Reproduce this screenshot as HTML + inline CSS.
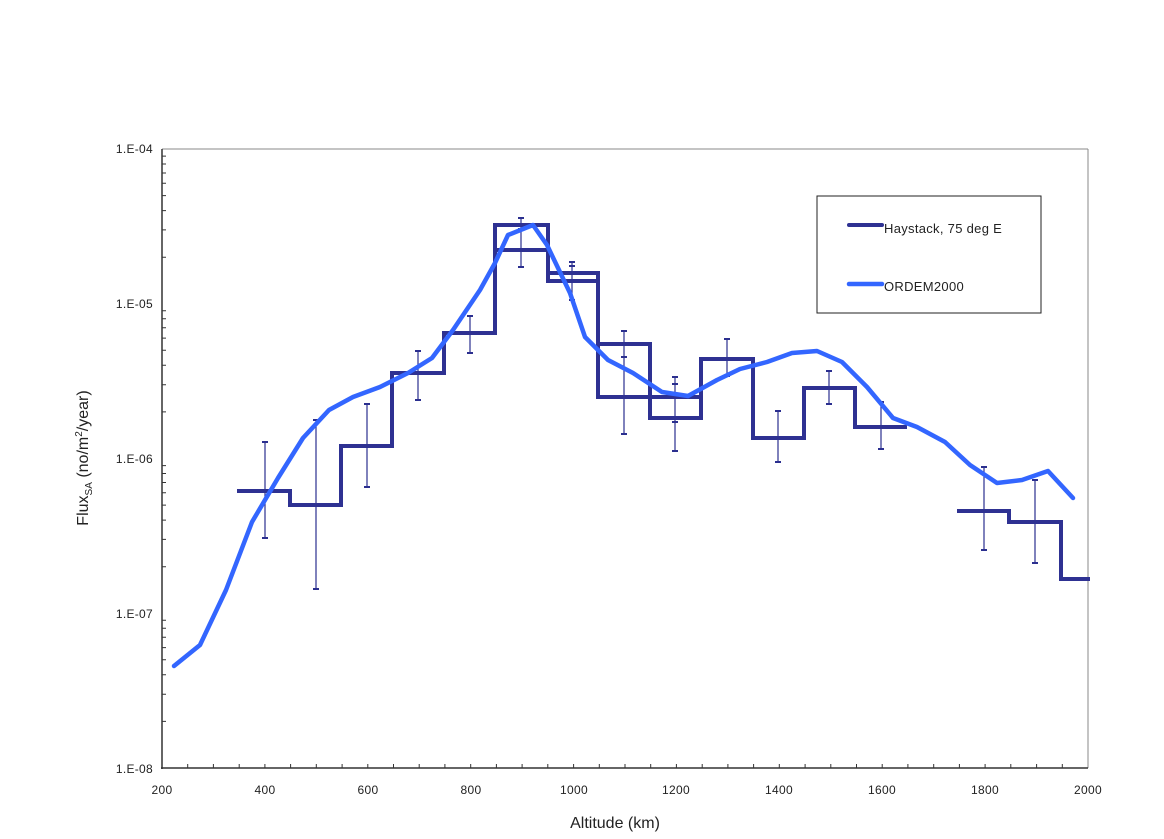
<!DOCTYPE html>
<html><head><meta charset="utf-8"><style>body{margin:0;background:#fff}svg{display:block}</style></head><body>
<svg width="1164" height="839" xmlns="http://www.w3.org/2000/svg" font-family="Liberation Sans, Arial, sans-serif">
<rect width="1164" height="839" fill="#fff"/>
<line x1="162" y1="149" x2="1088" y2="149" stroke="#888" stroke-width="1"/>
<line x1="1088" y1="149" x2="1088" y2="768" stroke="#888" stroke-width="1"/>
<line x1="162" y1="149" x2="162" y2="769" stroke="#333" stroke-width="1.5"/>
<line x1="161" y1="768" x2="1088" y2="768" stroke="#333" stroke-width="1.5"/>
<g id="ticks" stroke="#333" stroke-width="1"></g>
<g font-size="12" fill="#222" text-anchor="end" letter-spacing="0.3">
<text x="153" y="153">1.E-04</text><text x="153" y="308">1.E-05</text><text x="153" y="463">1.E-06</text><text x="153" y="618">1.E-07</text><text x="153" y="773">1.E-08</text>
</g>
<g font-size="12" fill="#222" text-anchor="middle" letter-spacing="0.3">
<text x="162" y="794">200</text><text x="265" y="794">400</text><text x="368" y="794">600</text><text x="471" y="794">800</text><text x="574" y="794">1000</text><text x="676" y="794">1200</text><text x="779" y="794">1400</text><text x="882" y="794">1600</text><text x="985" y="794">1800</text><text x="1088" y="794">2000</text>
</g>
<text x="615" y="828" font-size="16" text-anchor="middle" fill="#222">Altitude (km)</text>
<text transform="translate(88,458) rotate(-90)" font-size="16" text-anchor="middle" fill="#222">Flux<tspan font-size="10" dy="4">SA</tspan><tspan dy="-4"> (no/m</tspan><tspan font-size="10" dy="-6">2</tspan><tspan dy="6">/year)</tspan></text>
<g stroke="#2b2f8f" stroke-width="1.2" fill="none">
<path d="M265 442V538M316 420V589M367 404V487M418 351V400M470 316V353M521 218V267M572 262V300M624 331V434M675 377V451M727 339V376M778 411V462M829 371V404M881 402V449M984 467V550M1035 480V563"/>
</g>
<g stroke="#2b2f8f" stroke-width="2" fill="none">
<path d="M262 442h6M262 538h6M313 420h6M313 589h6M364 404h6M364 487h6M415 351h6M415 400h6M467 316h6M467 353h6M518 218h6M518 267h6M518 229h6M569 262h6M569 300h6M569 266h6M569 281h6M621 331h6M621 434h6M621 357h6M672 377h6M672 451h6M672 384h6M672 422h6M724 339h6M724 376h6M775 411h6M775 462h6M826 371h6M826 404h6M878 402h6M878 449h6M981 467h6M981 550h6M1032 480h6M1032 563h6"/>
</g>
<g stroke="#2e3192" stroke-width="4" fill="none" stroke-linejoin="miter">
<path d="M237 491H290V505H341V446H392V373H444V333H495V225H548V281H598V397H650V418H701V359H753V438H804V388H855V427H907"/>
<path d="M495 250H548V273H598V344H650V397H701"/>
<path d="M957 511H1009V522H1061V579H1090"/>
</g>
<polyline fill="none" stroke="#3366ff" stroke-width="4.5" stroke-linejoin="round" stroke-linecap="round" points="174,666 200,645 226,590 252,522 278,478 303,438 329,410 353,397 380,387 408,373 432,358 453,330 480,290 495,263 508,235 533,225 547,245 570,293 585,337 608,360 633,373 662,392 688,396 717,380 740,369 767,362 792,353 817,351 842,362 867,387 893,418 917,427 945,442 970,465 997,483 1022,480 1048,471 1073,498"/>
<rect x="817" y="196" width="224" height="117" fill="#fff" stroke="#222" stroke-width="1"/>
<line x1="849" y1="225" x2="882" y2="225" stroke="#2e3192" stroke-width="4" stroke-linecap="round"/>
<line x1="849" y1="284" x2="882" y2="284" stroke="#3366ff" stroke-width="4.5" stroke-linecap="round"/>
<text x="884" y="233" font-size="13" fill="#222" letter-spacing="0.3">Haystack, 75 deg E</text>
<text x="884" y="291" font-size="13" fill="#222" letter-spacing="0.3">ORDEM2000</text>
<script>
var g=document.getElementById('ticks'),s='';
for(var d=0;d<4;d++){var y0=768-d*154.75;for(var k=2;k<10;k++){var y=y0-Math.log10(k)*154.75;s+='M162 '+y.toFixed(1)+'h4';}}
for(var a=250;a<2000;a+=50){var x=162+(a-200)*926/1800;s+='M'+x.toFixed(1)+' 768v-4';}
var p=document.createElementNS('http://www.w3.org/2000/svg','path');p.setAttribute('d',s);g.appendChild(p);
</script>
</svg>
</body></html>
